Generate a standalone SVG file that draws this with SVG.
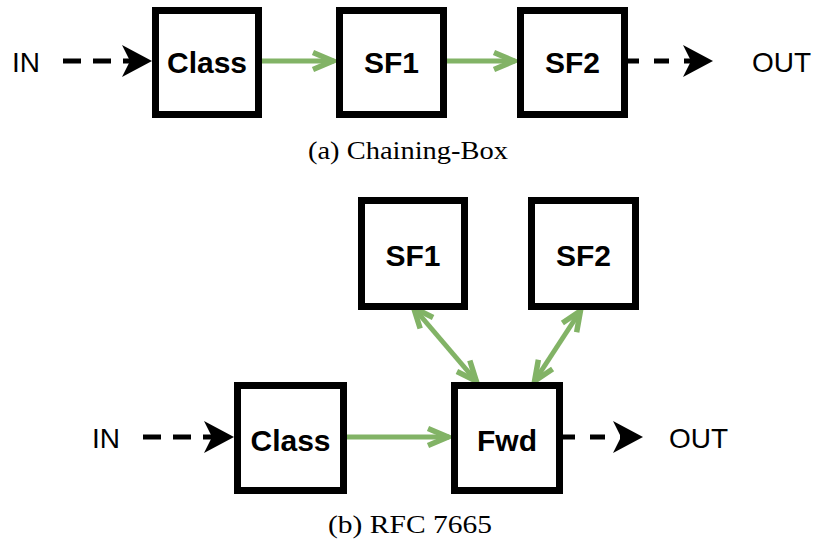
<svg xmlns="http://www.w3.org/2000/svg" width="817" height="541" viewBox="0 0 817 541">
  <style>
    .box { fill: #ffffff; stroke: #000000; stroke-width: 7; }
    .lbl { font-family: "Liberation Sans", Arial, sans-serif; font-weight: bold; font-size: 30px; fill: #000; text-anchor: middle; }
    .io { font-family: "Liberation Sans", Arial, sans-serif; font-size: 28px; fill: #000; }
    .cap { font-family: "Liberation Serif", "Times New Roman", serif; font-size: 26px; fill: #000; text-anchor: middle; }
    .flow { fill: none; stroke: #82b366; stroke-width: 5; }
    .ext { fill: none; stroke: #000; stroke-width: 5; }
  </style>
  <defs>
    <!-- open chevron head for the green service links -->
    <marker id="open" markerUnits="userSpaceOnUse" markerWidth="30" markerHeight="24" refX="26" refY="12" orient="auto-start-reverse" overflow="visible">
      <path d="M5,3.5 L25,12 L5,20.5" fill="none" stroke="#82b366" stroke-width="5.5" stroke-linejoin="miter"/>
    </marker>
    <!-- notched black head for the ingress/egress links -->
    <marker id="classic" markerUnits="userSpaceOnUse" markerWidth="32" markerHeight="34" refX="9" refY="17" orient="auto" overflow="visible">
      <path d="M1,1 L31,17 L1,33 L9,17 Z" fill="#000"/>
    </marker>
  </defs>

  <!-- (a) chaining box -->
  <g id="connectors-a">
    <path class="ext" d="M63,61 H130" stroke-dasharray="18 12" marker-end="url(#classic)"/>
    <path class="flow" d="M262,61 H334" marker-end="url(#open)"/>
    <path class="flow" d="M447,61 H515" marker-end="url(#open)"/>
    <path class="ext" d="M624,61 H691" stroke-dasharray="15 15" marker-end="url(#classic)"/>
  </g>
  <g id="a-in"><text class="io" x="12" y="72">IN</text></g>
  <g id="a-class">
    <rect class="box" x="155.5" y="10.5" width="103" height="104"/>
    <text class="lbl" x="207" y="73">Class</text>
  </g>
  <g id="a-sf1">
    <rect class="box" x="339.5" y="10.5" width="104" height="104"/>
    <text class="lbl" x="391.5" y="73">SF1</text>
  </g>
  <g id="a-sf2">
    <rect class="box" x="520.5" y="10.5" width="104" height="104"/>
    <text class="lbl" x="572.5" y="73">SF2</text>
  </g>
  <g id="a-out"><text class="io" x="752" y="72">OUT</text></g>
  <text class="cap" x="408" y="159" textLength="200" lengthAdjust="spacingAndGlyphs">(a) Chaining-Box</text>

  <!-- (b) RFC 7665 -->
  <g id="connectors-b">
    <path class="ext" d="M143,437 H212" stroke-dasharray="18 12" marker-end="url(#classic)"/>
    <path class="flow" d="M347,437 H449" marker-end="url(#open)"/>
    <path class="flow" d="M413,307 L477,382" marker-start="url(#open)" marker-end="url(#open)"/>
    <path class="flow" d="M581,310 L534,382" marker-start="url(#open)" marker-end="url(#open)"/>
    <path class="ext" d="M560,437 H621" stroke-dasharray="15 15" marker-end="url(#classic)"/>
  </g>
  <g id="b-in"><text class="io" x="92" y="448">IN</text></g>
  <g id="b-sf1">
    <rect class="box" x="361.5" y="200.5" width="103" height="106"/>
    <text class="lbl" x="413" y="266">SF1</text>
  </g>
  <g id="b-sf2">
    <rect class="box" x="531.5" y="200.5" width="104" height="106"/>
    <text class="lbl" x="583.5" y="266">SF2</text>
  </g>
  <g id="b-class">
    <rect class="box" x="237.5" y="385.5" width="106" height="105"/>
    <text class="lbl" x="290.5" y="451">Class</text>
  </g>
  <g id="b-fwd">
    <rect class="box" x="454.5" y="385.5" width="105" height="105"/>
    <text class="lbl" x="507" y="451">Fwd</text>
  </g>
  <g id="b-out"><text class="io" x="669" y="448">OUT</text></g>
  <text class="cap" x="410" y="533" textLength="164" lengthAdjust="spacingAndGlyphs">(b) RFC 7665</text>
</svg>
